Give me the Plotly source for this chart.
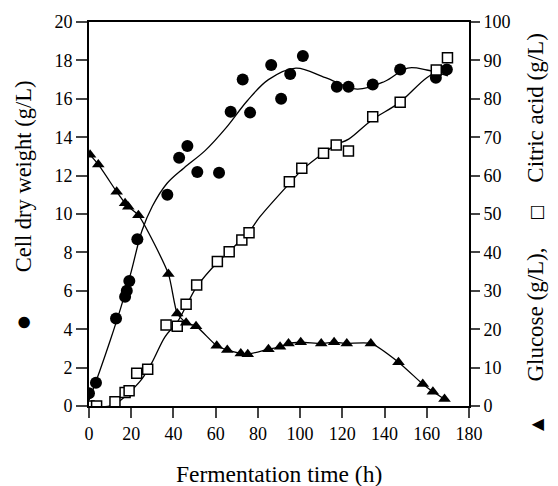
import plotly.graph_objects as go

# Cell dry weight (g/L), left axis
cdw_t = [0, 3.3, 12.8, 17.1, 17.9, 19.1, 22.9, 37.1, 42.7, 46.6, 51.3, 61.6, 67.1, 72.8, 76.3, 86.3, 91.0, 95.3, 101.3, 117.4, 122.9, 134.4, 147.4, 164.3, 169.5]
cdw_v = [0.66, 1.21, 4.56, 5.69, 6.0, 6.51, 8.68, 11.0, 12.93, 13.54, 12.19, 12.15, 15.33, 17.0, 15.28, 17.76, 16.0, 17.29, 18.23, 16.63, 16.63, 16.75, 17.53, 17.1, 17.53]
# fitted curve for cell dry weight
cdw_fit_t = [0, 5, 10, 15, 20, 25, 30, 37, 45, 55, 65, 75, 85, 98, 112, 127, 140, 151, 160, 170]
cdw_fit_v = [0.3, 1.8, 3.4, 5.1, 7.0, 9.1, 10.4, 11.6, 12.4, 13.3, 14.5, 15.9, 17.0, 17.6, 17.1, 16.5, 16.9, 17.6, 17.5, 17.2]

# Citric acid (g/L), right axis
ca_t = [0, 3.6, 12.3, 17.1, 19.0, 22.6, 27.8, 36.5, 41.8, 46.0, 51.0, 60.8, 66.4, 72.4, 75.8, 94.9, 100.8, 111.1, 117.1, 122.9, 134.4, 147.4, 164.5, 169.8]
ca_v = [0, 0, 1.1, 3.5, 4.0, 8.5, 9.6, 21.1, 20.8, 26.5, 31.5, 37.6, 40.2, 43.2, 45.1, 58.4, 61.9, 65.8, 68.0, 66.4, 75.3, 79.1, 87.5, 90.7]
ca_fit_t = [0, 10, 15, 20, 25, 30, 36, 42, 46, 51, 61, 66, 72, 76, 81, 95, 101, 111, 117, 123, 134, 147, 160, 170]
ca_fit_v = [0, 0, 1.5, 4, 7, 11.5, 18, 22, 26, 31, 37.5, 40, 43.3, 45.5, 49.3, 58, 61.5, 65.8, 68, 69.5, 74.5, 79, 85.5, 88.5]

# Glucose (g/L), right axis
gl_t = [0.5, 4.4, 13.1, 17.1, 18.6, 23.4, 37.6, 41.8, 46.0, 50.7, 60.5, 65.5, 71.9, 75.2, 85.0, 90.5, 94.5, 100.3, 110.0, 116.1, 122.1, 133.5, 146.6, 158.1, 162.9, 168.4]
gl_v = [65.4, 62.9, 55.8, 52.8, 51.9, 49.7, 34.4, 24.1, 21.7, 20.8, 15.7, 14.6, 13.7, 13.5, 14.8, 15.4, 16.3, 16.6, 16.3, 16.6, 16.3, 16.3, 11.4, 5.7, 3.7, 1.8]

x_ticks = [0, 20, 40, 60, 80, 100, 120, 140, 160, 180]
yl_ticks = [0, 2, 4, 6, 8, 10, 12, 14, 16, 18, 20]
yr_ticks = [0, 10, 20, 30, 40, 50, 60, 70, 80, 90, 100]

FONT = "Liberation Serif"
SYM = "DejaVu Sans"
line = dict(color="black", width=1.3)

fig = go.Figure()
fig.add_trace(go.Scatter(x=cdw_fit_t, y=cdw_fit_v, mode="lines", line=dict(shape="spline", **line), yaxis="y"))
fig.add_trace(go.Scatter(x=ca_fit_t, y=ca_fit_v, mode="lines", line=dict(shape="spline", **line), yaxis="y2"))
fig.add_trace(go.Scatter(x=gl_t, y=gl_v, mode="lines", line=dict(shape="spline", smoothing=0.6, **line), yaxis="y2"))
fig.add_trace(go.Scatter(x=cdw_t, y=cdw_v, mode="markers", yaxis="y",
                         marker=dict(symbol="circle", size=12, color="black")))
fig.add_trace(go.Scatter(x=ca_t, y=ca_v, mode="markers", yaxis="y2",
                         marker=dict(symbol="square", size=10, color="white", line=dict(color="black", width=1.5))))
fig.add_trace(go.Scatter(x=gl_t, y=gl_v, mode="markers", yaxis="y2",
                         marker=dict(symbol="triangle-up", size=11, color="black")))

tickfont = dict(family=FONT, size=18, color="black")


def label(text, x, y, size, angle=-90, family=FONT):
    return dict(text=text, xref="paper", yref="paper", x=x, y=y, textangle=angle,
                showarrow=False, xanchor="center", yanchor="middle",
                font=dict(family=family, size=size, color="black"))


fig.update_layout(
    width=558, height=486,
    margin=dict(l=89, r=89, t=22, b=80),
    paper_bgcolor="white", plot_bgcolor="white",
    showlegend=False,
    font=dict(family=FONT, color="black"),
    xaxis=dict(range=[0, 180], tickvals=x_ticks, ticks="outside", ticklen=10, tickwidth=1.6,
               showline=True, linecolor="black", linewidth=2, mirror=True, showgrid=False,
               zeroline=False, tickfont=tickfont),
    yaxis=dict(range=[0, 20], tickvals=yl_ticks, ticks="outside", ticklen=11, tickwidth=1.6,
               showline=True, linecolor="black", linewidth=2, showgrid=False, zeroline=False,
               tickfont=tickfont),
    yaxis2=dict(range=[0, 100], tickvals=yr_ticks, ticks="outside", ticklen=9, tickwidth=1.6,
                overlaying="y", side="right", showline=True, linecolor="black", linewidth=2,
                showgrid=False, zeroline=False, tickfont=tickfont),
    annotations=[
        label("Fermentation time (h)", 0.4987, -0.177, 23.5, 0),
        label("Cell dry weight (g/L)", -0.1737, 0.598, 22.5),
        label("●", -0.1737, 0.219, 15, family=SYM),
        label("Citric acid (g/L)", 1.1763, 0.777, 23),
        label("□", 1.1763, 0.503, 17, family=SYM),
        label("Glucose (g/L),", 1.1763, 0.238, 23),
        label("▲", 1.1763, -0.047, 16, family=SYM),
    ],
)

fig.write_html("out.html", config={"displayModeBar": False},
               post_script="document.body.style.margin='0';document.body.style.overflow='hidden';")
